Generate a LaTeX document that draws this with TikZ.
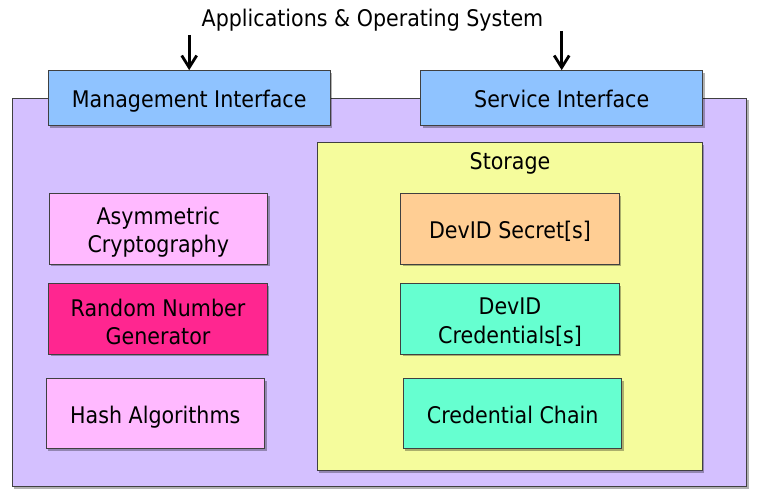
\documentclass[tikz,border=0pt]{standalone}
\usepackage{fontspec}
\setmainfont{DejaVu Sans Condensed}
\usetikzlibrary{shadows,arrows.meta}
\definecolor{cpurple}{RGB}{212,192,255}
\definecolor{cblue}{RGB}{143,195,255}
\definecolor{cyellow}{RGB}{245,252,156}
\definecolor{cpink}{RGB}{255,185,255}
\definecolor{crng}{RGB}{255,38,144}
\definecolor{corange}{RGB}{255,206,148}
\definecolor{cteal}{RGB}{102,255,208}
\definecolor{cline}{RGB}{64,64,64}
\tikzset{
  x=1bp, y=-1bp,
  boxbase/.style={draw=cline, line width=1bp, inner sep=0pt,
    drop shadow={shadow xshift=2bp, shadow yshift=-2bp, opacity=0.3, fill=black}},
  ifbox/.style={boxbase, fill=cblue, minimum width=282bp, minimum height=55.3bp},
  compbox/.style={boxbase, minimum width=218.5bp, minimum height=70bp},
  txt/.style={inner sep=0pt, align=center, font=\fontsize{23}{28.5}\selectfont},
  txtone/.style={txt, text height=17.5bp, text depth=5bp},
  downarrow/.style={-{Straight Barb[length=12bp,width=15bp]}, line width=2.8bp, black},
}
\begin{document}
\begin{tikzpicture}
\useasboundingbox (0,0) rectangle (758,500);
% outer module
\node[boxbase, fill=cpurple, minimum width=734.2bp, minimum height=388.7bp] (module) at (379.4,292.6) {};
% storage
\node[boxbase, fill=cyellow, minimum width=385bp, minimum height=328bp] (storage) at (509.8,306.7) {};
\node[txt, anchor=base] (storagelbl) at (510,170) {Storage};
% interfaces
\node[ifbox] (mgmt) at (189.2,98.3) {};
\node[txtone] (mgmtt) at ([yshift=-3.2bp]mgmt.center) {Management Interface};
\node[ifbox] (svc) at (561.7,98.3) {};
\node[txtone] (svct) at ([yshift=-3.2bp]svc.center) {Service Interface};
% title
\node[txt, anchor=base] (title) at (372.5,26.5) {Applications \& Operating System};
\coordinate (a1) at (189.2,35);
\coordinate (a2) at (561.7,31);
\draw[downarrow] (a1) -- (mgmt.north);
\draw[downarrow] (a2) -- (svc.north);
% left components
\node[compbox, fill=cpink] (asym) at (158.3,229) {};
\node[txt] (asymt) at ([yshift=-3bp]asym.center) {Asymmetric\\Cryptography};
\node[compbox, fill=crng] (rng) at (158,319) {};
\node[txt] (rngt) at ([yshift=-3bp]rng.center) {Random Number\\Generator};
\node[compbox, fill=cpink] (hash) at (155.3,413.7) {};
\node[txtone] (hasht) at ([yshift=-3.2bp]hash.center) {Hash Algorithms};
% right components
\node[compbox, fill=corange] (secret) at (510,229) {};
\node[txtone] (secrett) at ([yshift=-3.2bp]secret.center) {DevID Secret[s]};
\node[compbox, fill=cteal] (cred) at (510,319) {};
\node[txt] (credt) at ([yshift=-3bp]cred.center) {DevID\\Credentials[s]};
\node[compbox, fill=cteal] (chain) at (512.7,413.7) {};
\node[txtone] (chaint) at ([yshift=-3.2bp]chain.center) {Credential Chain};
\end{tikzpicture}
\end{document}
